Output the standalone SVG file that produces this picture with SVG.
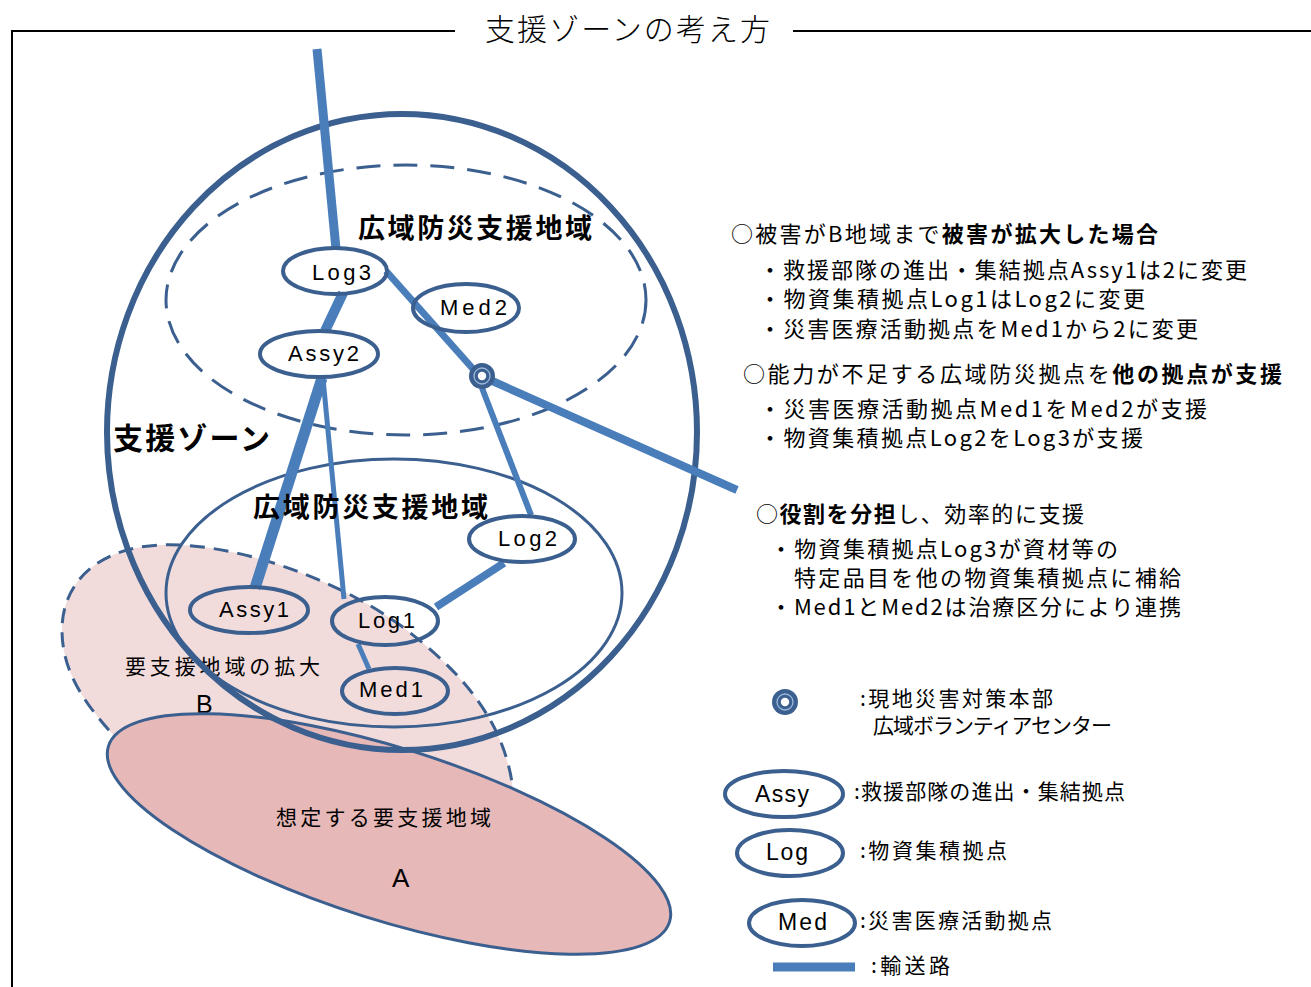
<svg xmlns="http://www.w3.org/2000/svg" width="1311" height="987" viewBox="0 0 1311 987">
<defs>
<style>
.jp{font-family:"Noto Sans CJK JP","Noto Sans CJK SC",sans-serif;fill:#000}
.lat{font-family:"Liberation Sans","Noto Sans CJK JP",sans-serif;fill:#000}
.b{font-weight:bold}
.node{fill:none;stroke:#3b5f8f;stroke-width:4}
.road{stroke:#4a7ebb;fill:none;stroke-linecap:butt}
.zone{fill:none;stroke:#3b5f8f}
</style>
<g id="hq-symbol">
<circle r="13" fill="#3b5f8f"/>
<circle r="8" fill="none" stroke="#9bb8dc" stroke-width="1.3"/>
<circle r="4.2" fill="#fff"/>
</g>
</defs>
<rect width="1311" height="987" fill="#fff"/>

<g id="frame">
<path d="M12,987 V31 H455 M793,31 H1311" fill="none" stroke="#000" stroke-width="2"/>
<text class="jp" x="485" y="40" font-size="30" font-weight="300" textLength="285" lengthAdjust="spacing">支援ゾーンの考え方</text>
</g>

<g id="areaB">
<path d="M125,748 C95,715 62,680 62,630 C62,585 95,548 160,545 C230,542 330,575 400,625 C460,670 505,720 513,790 L515,835 L300,805 Z" fill="#f2dcdb" stroke="#3b5f8f" stroke-width="3" stroke-dasharray="15 9"/>
<text class="jp" x="125" y="674" font-size="21" textLength="195" lengthAdjust="spacing">要支援地域の拡大</text>
<text class="lat" x="196" y="713" font-size="25">B</text>
</g>

<g id="areaA">
<ellipse cx="389" cy="834" rx="294" ry="86" transform="rotate(17.4 389 834)" fill="#e6b8b7" stroke="#3b5f8f" stroke-width="3"/>
<text class="jp" x="276" y="825" font-size="21" textLength="215" lengthAdjust="spacing">想定する要支援地域</text>
<text class="lat" x="392" y="887" font-size="26">A</text>
</g>

<g id="zones">
<ellipse id="support-zone" class="zone" cx="402" cy="432" rx="295" ry="318" stroke-width="6"/>
<ellipse id="region-upper" class="zone" cx="406" cy="300" rx="240" ry="135" stroke-width="3" stroke-dasharray="24 13"/>
<ellipse id="region-lower" class="zone" cx="394" cy="593" rx="228" ry="134" stroke-width="3"/>
</g>

<g id="connectors">
<line class="road" x1="317" y1="49" x2="336" y2="249" stroke-width="9"/>
<line class="road" x1="343" y1="293" x2="325" y2="331" stroke-width="10"/>
<line class="road" x1="386" y1="271" x2="474" y2="370" stroke-width="7"/>
<line class="road" x1="490" y1="380" x2="737" y2="490" stroke-width="8"/>
<line class="road" x1="482" y1="388" x2="531" y2="515" stroke-width="6"/>
<line class="road" x1="322" y1="378" x2="255" y2="588" stroke-width="11"/>
<line class="road" x1="323" y1="378" x2="344" y2="599" stroke-width="5"/>
<line class="road" x1="358" y1="644" x2="369" y2="669" stroke-width="5"/>
<line class="road" x1="504" y1="563" x2="436" y2="607" stroke-width="8"/>
</g>

<g id="zone-labels">
<text class="jp b" x="358" y="238" font-size="27" textLength="234" lengthAdjust="spacing">広域防災支援地域</text>
<text class="jp b" x="253" y="517" font-size="27" textLength="235" lengthAdjust="spacing">広域防災支援地域</text>
<text class="jp b" x="113" y="449" font-size="30" textLength="157" lengthAdjust="spacing">支援ゾーン</text>
</g>

<g id="Log3"><ellipse class="node" cx="335" cy="271" rx="52" ry="23"/><text class="lat" x="312" y="280" font-size="22" textLength="59" lengthAdjust="spacing">Log3</text></g>
<g id="Med2"><ellipse class="node" cx="466" cy="308" rx="53" ry="24"/><text class="lat" x="440" y="315" font-size="22" textLength="67" lengthAdjust="spacing">Med2</text></g>
<g id="Assy2"><ellipse class="node" cx="319" cy="354" rx="59" ry="23"/><text class="lat" x="288" y="361" font-size="22" textLength="71" lengthAdjust="spacing">Assy2</text></g>
<g id="HQ"><use href="#hq-symbol" x="482" y="376"/></g>
<g id="Log2"><ellipse class="node" cx="522" cy="539" rx="53" ry="23"/><text class="lat" x="498" y="546" font-size="22" textLength="59" lengthAdjust="spacing">Log2</text></g>
<g id="Assy1"><ellipse class="node" cx="249" cy="610" rx="59" ry="23"/><text class="lat" x="219" y="617" font-size="22" textLength="70" lengthAdjust="spacing">Assy1</text></g>
<g id="Log1"><ellipse class="node" cx="385" cy="621" rx="53" ry="24"/><text class="lat" x="358" y="628" font-size="22" textLength="57" lengthAdjust="spacing">Log1</text></g>
<g id="Med1"><ellipse class="node" cx="395" cy="691" rx="53" ry="23"/><text class="lat" x="359" y="697" font-size="22" textLength="64" lengthAdjust="spacing">Med1</text></g>

<g id="notes" class="jp" font-size="22">
<text x="731" y="242" textLength="427" lengthAdjust="spacing">○被害がB地域まで<tspan class="b">被害が拡大した場合</tspan></text>
<text x="759" y="278" textLength="488" lengthAdjust="spacing">・救援部隊の進出・集結拠点Assy1は2に変更</text>
<text x="759" y="307" textLength="386" lengthAdjust="spacing">・物資集積拠点Log1はLog2に変更</text>
<text x="759" y="337" textLength="439" lengthAdjust="spacing">・災害医療活動拠点をMed1から2に変更</text>
<text x="743" y="382" textLength="539" lengthAdjust="spacing">○能力が不足する広域防災拠点を<tspan class="b">他の拠点が支援</tspan></text>
<text x="759" y="417" textLength="448" lengthAdjust="spacing">・災害医療活動拠点Med1をMed2が支援</text>
<text x="759" y="446" textLength="384" lengthAdjust="spacing">・物資集積拠点Log2をLog3が支援</text>
<text x="756" y="522" textLength="328" lengthAdjust="spacing">○<tspan class="b">役割を分担</tspan>し、効率的に支援</text>
<text x="770" y="557" textLength="348" lengthAdjust="spacing">・物資集積拠点Log3が資材等の</text>
<text x="794" y="586" textLength="387" lengthAdjust="spacing">特定品目を他の物資集積拠点に補給</text>
<text x="770" y="615" textLength="411" lengthAdjust="spacing">・Med1とMed2は治療区分により連携</text>
</g>

<g id="legend-hq"><use href="#hq-symbol" x="785" y="702"/>
<text class="jp" x="860" y="706" font-size="21" textLength="193" lengthAdjust="spacing">:現地災害対策本部</text>
<text class="jp" x="873" y="733" font-size="21" textLength="239" lengthAdjust="spacing">広域ボランティアセンター</text></g>
<g id="legend-assy"><ellipse class="node" cx="784" cy="794" rx="59" ry="23"/><text class="lat" x="755" y="802" font-size="23" textLength="54" lengthAdjust="spacing">Assy</text>
<text class="jp" x="854" y="799" font-size="21" textLength="271" lengthAdjust="spacing">:救援部隊の進出・集結拠点</text></g>
<g id="legend-log"><ellipse class="node" cx="790" cy="853" rx="53" ry="23"/><text class="lat" x="766" y="860" font-size="23" textLength="42" lengthAdjust="spacing">Log</text>
<text class="jp" x="860" y="858" font-size="21" textLength="147" lengthAdjust="spacing">:物資集積拠点</text></g>
<g id="legend-med"><ellipse class="node" cx="802" cy="923" rx="53" ry="23"/><text class="lat" x="778" y="930" font-size="23" textLength="49" lengthAdjust="spacing">Med</text>
<text class="jp" x="860" y="928" font-size="21" textLength="192" lengthAdjust="spacing">:災害医療活動拠点</text></g>
<g id="legend-road"><line class="road" x1="773" y1="967" x2="855" y2="967" stroke-width="9"/>
<text class="jp" x="871" y="973" font-size="21" textLength="79" lengthAdjust="spacing">:輸送路</text></g>
</svg>
